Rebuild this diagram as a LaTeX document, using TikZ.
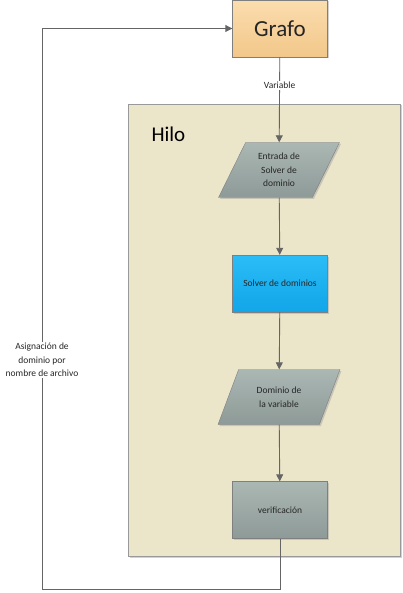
\documentclass[tikz,border=0pt]{standalone}
\usepackage{fontspec}
\setmainfont{Carlito}
\usetikzlibrary{shapes.geometric,arrows.meta,positioning,shadows}

\definecolor{lineGray}{HTML}{656565}
\definecolor{edgeGray}{HTML}{7F7F7F}
\definecolor{hiloFill}{HTML}{EBE6C9}
\definecolor{grafoTop}{HTML}{FBDDAE}
\definecolor{grafoBot}{HTML}{F2C78A}
\definecolor{grayTop}{HTML}{ABB7B3}
\definecolor{grayBot}{HTML}{8D9A97}
\definecolor{solverTop}{HTML}{2ABDF7}
\definecolor{solverBot}{HTML}{12A5E8}

\tikzset{
  flow/.style={draw=lineGray, line width=0.9pt, -{Triangle[width=7pt,length=7pt]}},
  boxshadow/.style={drop shadow={shadow xshift=1.5pt, shadow yshift=-1.5pt, fill=black!35}},
  procbox/.style={draw=edgeGray, minimum width=95pt, minimum height=57pt, align=center,
    font=\fontsize{9.5}{13.5}\selectfont, text=black!85, boxshadow},
  iobox/.style={procbox, trapezium, trapezium left angle=64, trapezium right angle=116,
    trapezium stretches=true, minimum width=122pt, minimum height=55pt,
    top color=grayTop, bottom color=grayBot},
  smalltext/.style={font=\fontsize{9.5}{13.5}\selectfont, text=black!85, fill=white, align=center, inner sep=1pt}
}

\begin{document}
\begin{tikzpicture}[x=1pt,y=-1pt]
  \useasboundingbox (0,0) rectangle (403,593);

  % contenedor del hilo
  \draw[draw=black!40, fill=hiloFill, boxshadow] (128,104) rectangle (400,556);
  \node[font=\fontsize{21}{24}\selectfont, anchor=west] (hilo) at (148,134) {Hilo};

  % nodos
  \node[procbox, top color=grafoTop, bottom color=grafoBot, font=\fontsize{23}{26}\selectfont] (grafo) at (280,28.5) {Grafo};
  \node[iobox] (entrada) at (279,170) {Entrada de\\Solver de\\dominio};
  \node[procbox, top color=solverTop, bottom color=solverBot] (solver) at (280,283.5) {Solver de dominios};
  \node[iobox] (dominio) at (279,397) {Dominio de\\la variable};
  \node[procbox, top color=grayTop, bottom color=grayBot] (verif) at (280,510) {verificación};

  % conexiones
  \draw[flow] (grafo) -- node[smalltext, pos=0.33] (var) {Variable} (entrada);
  \draw[flow] (entrada) -- (solver);
  \draw[flow] (solver) -- (dominio);
  \draw[flow] (dominio) -- (verif);

  % lazo de regreso
  \coordinate (loopBL) at (42,589);
  \draw[flow] (verif.south) |- (loopBL) -- (loopBL |- grafo.west) -- (grafo.west);
  \node[smalltext] (asig) at (42,360) {Asignación de\\dominio por\\nombre de archivo};
\end{tikzpicture}
\end{document}
